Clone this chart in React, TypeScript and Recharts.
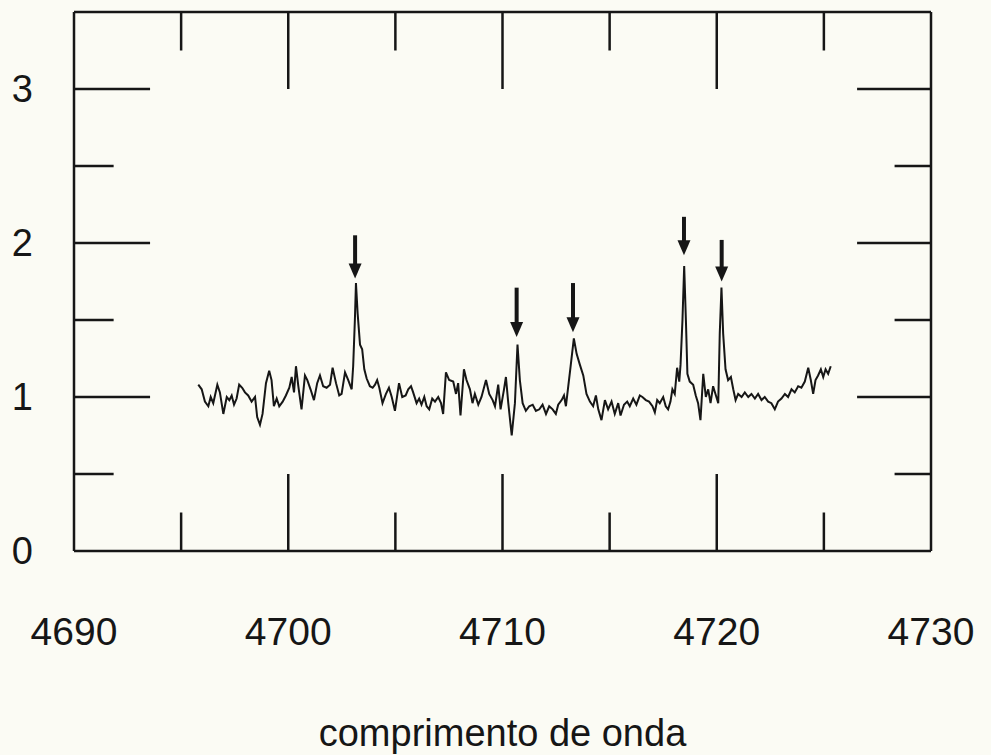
import { LineChart, Line, XAxis, YAxis, ReferenceLine, Label } from "recharts";

// wavelength (Å) and relative flux
const wavelength = [
  4695.8, 4695.96, 4696.11, 4696.27, 4696.38, 4696.5, 4696.69, 4696.81, 4696.97, 4697.13,
  4697.25, 4697.36, 4697.47, 4697.59, 4697.71, 4697.85, 4697.98, 4698.13, 4698.29, 4698.45,
  4698.55, 4698.68, 4698.8, 4698.96, 4699.11, 4699.22, 4699.33, 4699.46, 4699.58, 4699.74,
  4699.89, 4700.05, 4700.16, 4700.27, 4700.36, 4700.47, 4700.62, 4700.78, 4700.89, 4701.04,
  4701.2, 4701.35, 4701.48, 4701.63, 4701.79, 4701.95, 4702.07, 4702.23, 4702.38, 4702.49,
  4702.65, 4702.8, 4702.96, 4703.03, 4703.11, 4703.16, 4703.24, 4703.35, 4703.45, 4703.55,
  4703.66, 4703.81, 4703.94, 4704.05, 4704.15, 4704.25, 4704.4, 4704.56, 4704.7, 4704.83,
  4704.98, 4705.17, 4705.32, 4705.48, 4705.6, 4705.73, 4705.83, 4705.99, 4706.11, 4706.22,
  4706.35, 4706.46, 4706.58, 4706.72, 4706.85, 4707.0, 4707.13, 4707.23, 4707.36, 4707.51,
  4707.7, 4707.83, 4707.93, 4708.04, 4708.2, 4708.32, 4708.48, 4708.6, 4708.71, 4708.87,
  4709.02, 4709.23, 4709.38, 4709.54, 4709.65, 4709.8, 4709.91, 4710.07, 4710.16, 4710.27,
  4710.43, 4710.58, 4710.7, 4710.81, 4710.94, 4711.09, 4711.25, 4711.41, 4711.56, 4711.72,
  4711.87, 4712.03, 4712.18, 4712.34, 4712.49, 4712.6, 4712.76, 4712.87, 4712.96, 4713.07,
  4713.18, 4713.33, 4713.46, 4713.61, 4713.77, 4713.92, 4714.08, 4714.23, 4714.36, 4714.47,
  4714.62, 4714.78, 4714.93, 4715.09, 4715.24, 4715.4, 4715.51, 4715.67, 4715.82, 4715.94,
  4716.1, 4716.25, 4716.41, 4716.53, 4716.69, 4716.84, 4717.0, 4717.11, 4717.22, 4717.34,
  4717.5, 4717.62, 4717.73, 4717.84, 4717.93, 4718.04, 4718.15, 4718.25, 4718.31, 4718.4,
  4718.48, 4718.56, 4718.63, 4718.74, 4718.9, 4719.02, 4719.13, 4719.24, 4719.37, 4719.49,
  4719.6, 4719.71, 4719.83, 4719.94, 4720.07, 4720.14, 4720.22, 4720.3, 4720.41, 4720.53,
  4720.66, 4720.77, 4720.88, 4721.0, 4721.16, 4721.31, 4721.47, 4721.62, 4721.78, 4721.93,
  4722.09, 4722.24, 4722.4, 4722.55, 4722.71, 4722.86, 4723.02, 4723.18, 4723.33, 4723.49,
  4723.64, 4723.8, 4723.95, 4724.11, 4724.27, 4724.39, 4724.5, 4724.61, 4724.73, 4724.86,
  4724.97, 4725.08, 4725.2, 4725.32,
];

const flux = [
  1.08, 1.05, 0.97, 0.94, 1.0, 0.96, 1.08, 1.03, 0.89, 1.0,
  0.98, 1.01, 0.95, 0.99, 1.08, 1.06, 1.03, 1.01, 0.97, 1.0,
  0.87, 0.82, 0.89, 1.09, 1.17, 1.11, 0.94, 0.99, 0.94, 0.97,
  1.01, 1.06, 1.13, 1.03, 1.2, 1.07, 0.92, 1.14, 1.11, 1.05,
  0.98, 1.09, 1.14, 1.07, 1.06, 1.08, 1.19, 1.09, 1.01, 1.02,
  1.16, 1.11, 1.05, 1.2, 1.5, 1.74, 1.54, 1.34, 1.31, 1.18,
  1.12, 1.07, 1.06, 1.08, 1.11, 1.06, 0.96, 1.02, 1.06, 1.0,
  0.91, 1.09, 1.0, 1.01, 1.05, 1.07, 1.03, 0.96, 0.99, 0.95,
  1.0, 0.94, 0.92, 0.99, 0.97, 1.0, 0.96, 0.89, 1.16, 1.11,
  1.1, 1.02, 1.09, 0.88, 1.18, 1.11, 1.05, 0.96, 1.02, 0.95,
  1.0, 1.11, 1.02, 0.98, 0.94, 1.08, 0.92, 1.05, 1.13, 0.96,
  0.75, 0.96, 1.34, 1.11, 0.96, 0.91, 0.94, 0.95, 0.91, 0.92,
  0.95, 0.89, 0.94, 0.92, 0.89, 0.95, 0.98, 1.01, 0.94, 1.07,
  1.2, 1.38, 1.28, 1.21, 1.14, 1.02, 0.97, 0.94, 1.01, 0.92,
  0.85, 0.98, 0.92, 0.97, 0.89, 0.96, 0.88, 0.95, 0.97, 0.94,
  0.99, 0.95, 1.01, 1.0, 0.98, 0.97, 0.94, 0.9, 0.98, 0.96,
  1.0, 0.94, 0.92, 0.97, 1.05, 1.02, 1.19, 1.1, 1.21, 1.5,
  1.85, 1.5, 1.15, 1.1, 1.08, 1.01, 0.96, 0.85, 1.15, 1.0,
  1.05, 0.96, 1.07, 1.02, 0.96, 1.41, 1.71, 1.41, 1.18, 1.11,
  1.13, 1.05, 0.98, 1.02, 1.0, 1.03, 1.0, 1.02, 0.99, 1.02,
  0.98, 1.0, 0.97, 0.96, 0.92, 0.97, 0.99, 1.02, 1.0, 1.05,
  1.03, 1.07, 1.06, 1.1, 1.19, 1.11, 1.02, 1.11, 1.14, 1.18,
  1.13, 1.18, 1.15, 1.2,
];

// arrows marking the emission lines
const arrowWavelengths = [4703.12, 4710.66, 4713.29, 4718.47, 4720.23];
const arrowTops = [2.05, 1.71, 1.74, 2.17, 2.02];
const arrowTips = [1.77, 1.39, 1.42, 1.92, 1.75];

const xLabels = [4690, 4700, 4710, 4720, 4730];
const yLabels = [0, 1, 2, 3];
const xLongTicks = [4700, 4710, 4720];
const xShortTicks = [4695, 4705, 4715, 4725];
const yLongTicks = [1, 2, 3];
const yShortTicks = [0.5, 1.5, 2.5];

const X_MIN = 4690;
const X_MAX = 4730;
const Y_MIN = 0;
const Y_MAX = 3.5;

const data = wavelength.map((w, i) => ({ w, f: flux[i] }));

const INK = "#161616";
const FONT = "'Liberation Sans', Arial, Helvetica, sans-serif";

const Arrow = (props: any) => {
  const { x1, y1, y2 } = props;
  const top = Math.min(y1, y2);
  const tip = Math.max(y1, y2);
  const head = 15;
  return (
    <g>
      <line x1={x1} y1={top} x2={x1} y2={tip - head + 2} stroke={INK} strokeWidth={4} />
      <polygon
        points={`${x1 - 6.5},${tip - head} ${x1 + 6.5},${tip - head} ${x1},${tip}`}
        fill={INK}
      />
    </g>
  );
};

export default function App() {
  const tickLine = { stroke: INK, strokeWidth: 2.5, ifOverflow: "visible" as const };
  return (
    <div
      style={{
        position: "absolute",
        left: 0,
        top: 0,
        width: 991,
        height: 755,
        background: "#fbfbf4",
      }}
    >
      <LineChart
        width={991}
        height={755}
        data={data}
        margin={{ top: 12, right: 60, left: 0, bottom: 0 }}
      >
        <XAxis
          dataKey="w"
          type="number"
          domain={[X_MIN, X_MAX]}
          ticks={xLabels}
          allowDataOverflow
          height={204}
          tickLine={false}
          tickSize={0}
          tickMargin={66}
          axisLine={{ stroke: INK, strokeWidth: 2.5 }}
          tick={{ fill: INK, fontSize: 39, fontFamily: FONT }}
        >
          <Label
            value="comprimento de onda"
            position="insideBottom"
            offset={9}
            style={{ fill: INK, fontSize: 38, fontFamily: FONT }}
          />
        </XAxis>
        <YAxis
          type="number"
          domain={[Y_MIN, Y_MAX]}
          ticks={yLabels}
          allowDataOverflow
          width={74}
          tickLine={false}
          tickSize={0}
          tickMargin={41}
          axisLine={{ stroke: INK, strokeWidth: 2.5 }}
          tick={{ fill: INK, fontSize: 38, fontFamily: FONT }}
        />

        {/* top and right frame */}
        <ReferenceLine y={Y_MAX} {...tickLine} />
        <ReferenceLine x={X_MAX} {...tickLine} />

        {/* inward ticks on the x edges */}
        {xLongTicks.map((v) => (
          <ReferenceLine key={`xlb${v}`} segment={[{ x: v, y: Y_MIN }, { x: v, y: Y_MIN + 0.5 }]} {...tickLine} />
        ))}
        {xLongTicks.map((v) => (
          <ReferenceLine key={`xlt${v}`} segment={[{ x: v, y: Y_MAX }, { x: v, y: Y_MAX - 0.5 }]} {...tickLine} />
        ))}
        {xShortTicks.map((v) => (
          <ReferenceLine key={`xsb${v}`} segment={[{ x: v, y: Y_MIN }, { x: v, y: Y_MIN + 0.25 }]} {...tickLine} />
        ))}
        {xShortTicks.map((v) => (
          <ReferenceLine key={`xst${v}`} segment={[{ x: v, y: Y_MAX }, { x: v, y: Y_MAX - 0.25 }]} {...tickLine} />
        ))}

        {/* inward ticks on the y edges */}
        {yLongTicks.map((v) => (
          <ReferenceLine key={`yll${v}`} segment={[{ x: X_MIN, y: v }, { x: X_MIN + 3.55, y: v }]} {...tickLine} />
        ))}
        {yLongTicks.map((v) => (
          <ReferenceLine key={`ylr${v}`} segment={[{ x: X_MAX, y: v }, { x: X_MAX - 3.45, y: v }]} {...tickLine} />
        ))}
        {yShortTicks.map((v) => (
          <ReferenceLine key={`ysl${v}`} segment={[{ x: X_MIN, y: v }, { x: X_MIN + 1.85, y: v }]} {...tickLine} />
        ))}
        {yShortTicks.map((v) => (
          <ReferenceLine key={`ysr${v}`} segment={[{ x: X_MAX, y: v }, { x: X_MAX - 1.7, y: v }]} {...tickLine} />
        ))}

        {arrowWavelengths.map((w, i) => (
          <ReferenceLine
            key={`arrow${i}`}
            segment={[{ x: w, y: arrowTops[i] }, { x: w, y: arrowTips[i] }]}
            ifOverflow="visible"
            shape={Arrow}
          />
        ))}

        <Line
          dataKey="f"
          type="linear"
          stroke={INK}
          strokeWidth={2}
          dot={false}
          isAnimationActive={false}
        />
      </LineChart>
    </div>
  );
}
